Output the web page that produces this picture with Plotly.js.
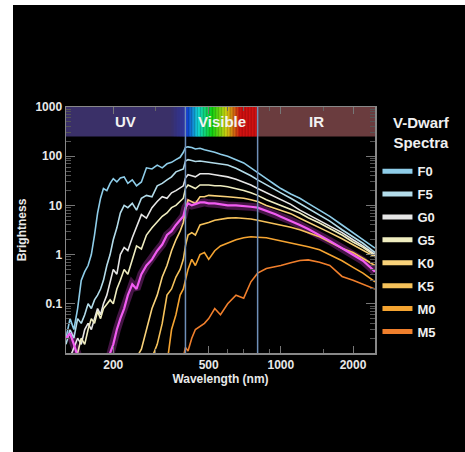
<!DOCTYPE html>
<html><head><meta charset="utf-8">
<script src="https://cdn.plot.ly/plotly-3.0.1.min.js"></script>
<style>
html,body{margin:0;padding:0;background:#fff;width:465px;height:452px;overflow:hidden}
#chart{position:absolute;left:13px;top:5px;width:452px;height:447px;background:#000}
</style></head><body><div id="chart"></div>
<script>
// Wavelength grid (nm)
const wavelength = [127,132,137,142,147,152,157,162,167,172,177,182,188,194,200,207,214,222,230,240,250,262,275,290,305,320,335,350,365,380,392,400,410,425,440,460,480,500,530,560,600,650,700,750,800,870,950,1000,1100,1200,1300,1450,1600,1800,2000,2200,2470];

const F0 = [0.02,0.05,0.03,0.08,0.3,0.45,0.6,1.0,2.5,7,14,22,20,28,35,30,36,38,28,33,25,30,58,55,66,58,70,75,85,95,120,150,155,150,140,145,135,130,120,110,100,85,73,58,46,35,26,22,17,14,11,8,6,4,2.8,2,1.35];
const F5 = [0.015,0.03,0.02,0.05,0.04,0.06,0.1,0.08,0.12,0.15,0.2,0.3,0.6,1.0,2.0,3.5,7,10,9,11,8,14,16,15,25,28,33,38,48,52,55,80,85,82,78,80,78,76,72,70,66,57,48,40,33,26,20,18,14,11,8.5,6.3,4.8,3.2,2.3,1.7,1.1];
const G0 = [0.005,0.008,0.012,0.02,0.015,0.03,0.04,0.03,0.05,0.08,0.06,0.1,0.15,0.3,0.5,0.4,1.0,1.4,1.2,2.2,3.5,6.5,5.5,9,12,15,14,18,20,23,25,36,42,40,38,44,44,44,42,40,38,34,30,26,22,18,14.5,13,10.5,8,6.5,5,3.8,2.8,2.0,1.5,1.0];
const G5 = [0.004,0.005,0.006,0.01,0.02,0.015,0.03,0.05,0.04,0.07,0.05,0.08,0.1,0.12,0.1,0.2,0.3,0.5,0.4,0.8,1.5,1.3,2.5,3.5,4.5,6,7,9,10,12,14,22,26,24,22,26,26,26,25,25,24,22,20,18,16,13,11,10,8.5,7,5.6,4.4,3.4,2.5,1.8,1.4,0.95];
const K0 = [null,null,null,null,null,null,null,null,null,null,null,null,null,null,null,null,null,null,0.003,0.005,0.008,0.012,0.03,0.08,0.15,0.35,0.6,1.2,2.0,3.0,4.5,8,13,12,11,15,15,16,15.5,15.5,15,14.5,14,13,12,10,8.7,8,6.8,5.5,4.6,3.6,2.8,2.1,1.6,1.25,0.9];
const K5 = [null,null,null,null,null,null,null,null,null,null,null,null,null,null,null,null,null,null,null,null,null,null,null,0.008,0.015,0.04,0.15,0.2,0.35,0.5,0.8,1.5,2.5,2.8,2.5,4,4.2,4.5,5,5.2,5.5,5.6,5.5,5.3,5,4.6,4.2,4,3.6,3.2,2.8,2.3,1.8,1.35,1.1,0.85,0.6];
const M0 = [null,null,null,null,null,null,null,null,null,null,null,null,null,null,null,null,null,null,null,null,null,null,null,null,null,null,0.006,0.03,0.06,0.15,0.2,0.3,0.5,0.8,0.6,1.0,1.1,0.8,1.2,1.5,1.7,2.0,2.2,2.3,2.25,2.2,2.0,1.9,1.75,1.6,1.45,1.25,1.0,0.75,0.55,0.42,0.28];
const M5 = [null,null,null,null,null,null,null,null,null,null,null,null,null,null,null,null,null,null,null,null,null,null,null,null,null,null,null,null,null,0.004,0.008,0.013,0.011,0.02,0.03,0.035,0.04,0.05,0.08,0.06,0.1,0.15,0.13,0.28,0.42,0.52,0.56,0.6,0.68,0.76,0.78,0.7,0.6,0.36,0.3,0.25,0.2];
const Sun = [0.02,0.025,0.015,0.008,0.005,0.004,0.004,0.004,0.004,0.004,0.004,0.004,0.005,0.01,0.015,0.03,0.05,0.08,0.15,0.25,0.2,0.4,0.6,0.8,1.2,1.6,2.5,3.0,4.0,5,6,9,11,10,10.5,11.5,11.5,11,11,10.5,10,10,9.8,9.4,9,7.8,6.6,5.9,4.9,4,3.3,2.5,1.9,1.35,1.0,0.75,0.45];

const seriesNames = ['F0','F5','G0','G5','K0','K5','M0','M5'];
const seriesValues = [F0,F5,G0,G5,K0,K5,M0,M5];
const seriesColors = ['#8ecde9','#b3dcea','#e6e6e6','#efedc0','#f9d27a','#f6c25a','#f5a431','#f07f2c'];
const legendTitle = 'V-Dwarf<br>Spectra';

// Band regions
const bandNames = ['UV','Visible','IR'];
const bandEdges = [127,400,800,2470];
const bandColors = ['#3a3068',null,'#6a3c3e'];
const bandBottom = 250, bandTop = 1000;

const FONT = 'Liberation Sans, Arial, sans-serif';
const traces = [];
traces.push({x:wavelength,y:Sun,mode:'lines',line:{color:'rgba(230,70,230,0.30)',width:8},showlegend:false,hoverinfo:'skip'});
seriesNames.forEach((n,i)=>{
  traces.push({x:wavelength,y:seriesValues[i],name:n,legendgroup:n,mode:'lines',line:{color:seriesColors[i],width:1.6},connectgaps:false});
});
traces.push({x:wavelength,y:Sun,mode:'lines',line:{color:'#f25cf2',width:2.2},showlegend:false});

const shapes = [];
[0,2].forEach(i=>{
  shapes.push({type:'rect',xref:'x',yref:'y',x0:bandEdges[i],x1:bandEdges[i+1],y0:bandBottom,y1:bandTop,fillcolor:bandColors[i],line:{width:0},layer:'below'});
});
const uvTint = 10;
const lu0 = Math.log10(bandEdges[0]), lu1 = Math.log10(bandEdges[1]);
for(let k=0;k<uvTint;k++){
  const a = Math.pow(10, lu1 - (lu1-lu0)*0.12*(k+1)/uvTint), b = Math.pow(10, lu1 - (lu1-lu0)*0.12*k/uvTint);
  shapes.push({type:'rect',xref:'x',yref:'y',x0:a,x1:b,y0:bandBottom,y1:bandTop,fillcolor:`rgba(40,60,200,${0.06*(uvTint-k)})`,line:{width:0},layer:'below'});
}
const N = 48;
const l0 = Math.log10(bandEdges[1]), l1 = Math.log10(bandEdges[2]);
for(let k=0;k<N;k++){
  const t = k/(N-1);
  const hue = Math.max(0, 230 - t*300);
  const a = Math.pow(10, l0 + (l1-l0)*k/N), b = Math.pow(10, l0 + (l1-l0)*(k+1)/N);
  shapes.push({type:'rect',xref:'x',yref:'y',x0:a,x1:b*1.002,y0:bandBottom,y1:bandTop,fillcolor:`hsl(${hue},85%,44%)`,line:{width:0},layer:'below'});
}
[bandEdges[1],bandEdges[2]].forEach(v=>{
  shapes.push({type:'line',xref:'x',yref:'paper',x0:v,x1:v,y0:0,y1:1,line:{color:'#6f8fb8',width:1.5},layer:'above'});
});

const annotations = bandNames.map((n,i)=>({
  x: (Math.log10(bandEdges[i])+Math.log10(bandEdges[i+1]))/2,
  y: (Math.log10(bandBottom)+Math.log10(bandTop))/2,
  xref:'x',yref:'y',text:n,showarrow:false,
  font:{color:'#f2f2f2',size:15,family:FONT,weight:'bold'}
}));
annotations.push({xref:'paper',yref:'paper',x:1.152,y:0.978,xanchor:'center',yanchor:'top',align:'center',showarrow:false,
  text:legendTitle,font:{color:'#f0f0f0',size:15,family:FONT,weight:'bold'}});

const axisFont = {color:'#e8e8e8',size:12,family:FONT,weight:'bold'};
const layout = {
  width:452,height:447,
  paper_bgcolor:'#000',plot_bgcolor:'#000',
  margin:{l:53,r:90,t:102,b:99},
  font:{family:FONT,color:'#e8e8e8'},
  xaxis:{type:'log',range:[Math.log10(127),Math.log10(2470)],tickvals:[200,500,1000,2000],ticktext:['200','500','1000','2000'],
    ticks:'inside',ticklen:7,tickcolor:'#777',showline:true,linecolor:'#888',linewidth:1.5,mirror:'ticks',showgrid:false,zeroline:false,
    minor:{tickvals:[300,400,600,700,800,900,1500],ticks:'inside',ticklen:4,tickcolor:'#666'},
    tickfont:axisFont,title:{text:'Wavelength (nm)',font:{color:'#e8e8e8',size:12,family:FONT,weight:'bold'},standoff:3}},
  yaxis:{type:'log',range:[-2,3],tickvals:[0.1,1,10,100,1000],ticktext:['0.1','1','10','100','1000'],
    ticks:'inside',ticklen:9,tickcolor:'#777',showline:true,linecolor:'#888',linewidth:1.5,mirror:'ticks',showgrid:false,zeroline:false,
    minor:{ticks:'inside',ticklen:5,tickcolor:'#555',dtick:'D1'},
    tickfont:axisFont,title:{text:'Brightness',font:{color:'#e8e8e8',size:12,family:FONT,weight:'bold'},standoff:6}},
  shapes:shapes,annotations:annotations,
  legend:{x:1.008,y:0.8,xanchor:'left',yanchor:'top',bgcolor:'rgba(0,0,0,0)',tracegroupgap:3,
    font:{color:'#f0f0f0',size:13,family:FONT,weight:'bold'},itemwidth:30},
  showlegend:true
};
Plotly.newPlot('chart',traces,layout,{displayModeBar:false,staticPlot:true}).then(()=>{
  document.querySelectorAll('.legend .js-line').forEach(p=>{p.style.strokeWidth='5px';});
});
</script></body></html>
